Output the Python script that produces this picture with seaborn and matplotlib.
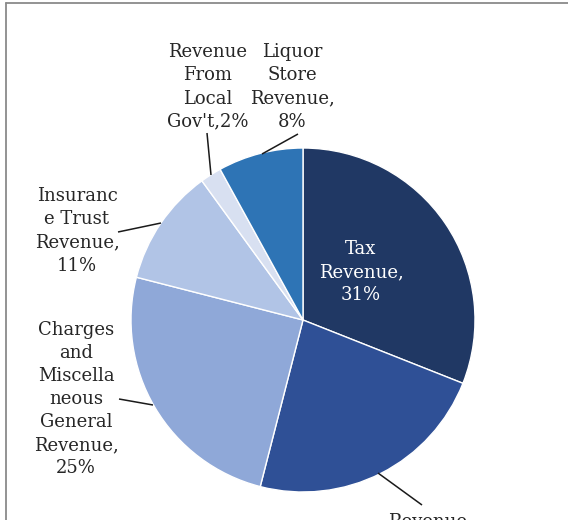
import matplotlib
matplotlib.use("Agg")
import matplotlib.pyplot as plt
from matplotlib.lines import Line2D
import seaborn as sns

# Revenue shares (percent), clockwise from 12 o'clock
categories = [
    "Tax Revenue",
    "Revenue From Federal Gov't",
    "Charges and Miscellaneous General Revenue",
    "Insurance Trust Revenue",
    "Revenue From Local Gov't",
    "Liquor Store Revenue",
]
shares = [31, 23, 25, 11, 2, 8]
label_texts = [
    "Tax\nRevenue,\n31%",
    "Revenue\nFrom\nFederal\nGov't,23%",
    "Charges\nand\nMiscella\nneous\nGeneral\nRevenue,\n25%",
    "Insuranc\ne Trust\nRevenue,\n11%",
    "Revenue\nFrom\nLocal\nGov't,2%",
    "Liquor\nStore\nRevenue,\n8%",
]

sns.set_theme(style="white")
plt.rcParams["font.family"] = ["DejaVu Serif"]

palette = sns.color_palette(
    ["#203864", "#2F5096", "#8FA8D8", "#B1C4E6", "#D8E0F1", "#2E74B5"]
)

W, H = 568, 520
fig = plt.figure(figsize=(W / 100, H / 100), dpi=100)
ax = fig.add_axes([0, 0, 1, 1])

cx, cy, r = 303, H - 320, 172
ax.pie(
    shares,
    colors=palette,
    startangle=90,
    counterclock=False,
    center=(cx, cy),
    radius=r,
    wedgeprops=dict(edgecolor="white", linewidth=1.0),
)
ax.set_xlim(0, W)
ax.set_ylim(0, H)
ax.set_aspect("equal")
ax.axis("off")

fs = 13
txt_color = "#262626"
ls = 1.36

# label placements in pixel coordinates (x, y from top)
label_pos = [
    (361, 272),
    (428, 557),
    (76, 399),
    (77, 231),
    (208, 87),
    (292, 87),
]
for i, (txt, (px, py)) in enumerate(zip(label_texts, label_pos)):
    ax.text(
        px, H - py, txt,
        ha="center", va="center", multialignment="center",
        fontsize=fs, color="white" if i == 0 else txt_color,
        linespacing=ls, clip_on=False,
    )

# leader lines
leaders = [
    ((378, 473), (422, 505)),
    ((119, 399), (153, 405)),
    ((118, 232), (161, 223)),
    ((207, 133), (211, 175)),
    ((298, 134), (262, 154)),
]
for (x0, y0), (x1, y1) in leaders:
    ax.plot([x0, x1], [H - y0, H - y1], color="#1a1a1a", lw=1.1,
            solid_capstyle="butt")

# outer frame (top and left edges)
fig.add_artist(Line2D([6 / W, 1], [1 - 3.3 / H, 1 - 3.3 / H],
                      transform=fig.transFigure, color="#8a8a8a", lw=1.3))
fig.add_artist(Line2D([6 / W, 6 / W], [0, 1 - 3.3 / H],
                      transform=fig.transFigure, color="#8a8a8a", lw=1.3))

fig.savefig("out.png", dpi=100, facecolor="white")
